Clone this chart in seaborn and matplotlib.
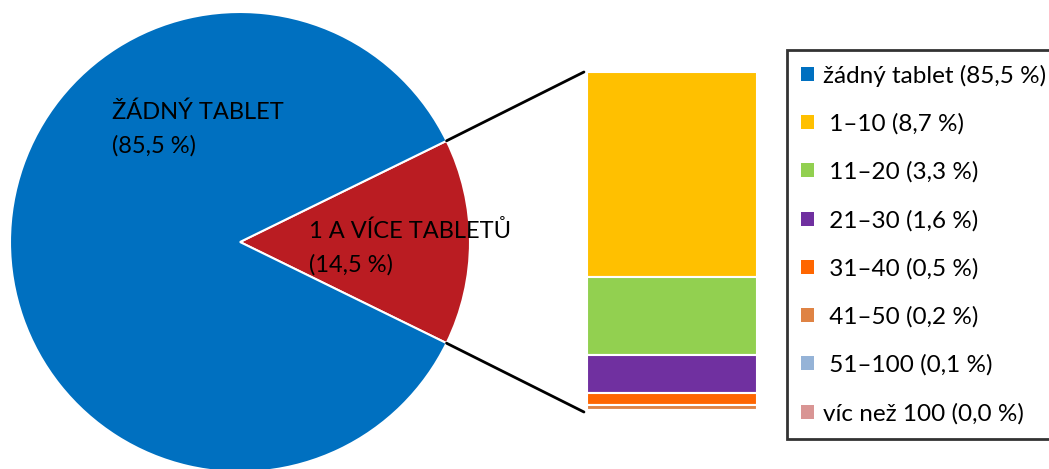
import matplotlib
matplotlib.use("Agg")
import matplotlib.pyplot as plt
from matplotlib.patches import ConnectionPatch
import numpy as np
import seaborn as sns

# pie: no tablets vs. one or more
pie_labels = ["1 A VÍCE TABLETŮ\n(14,5 %)", "ŽÁDNÝ TABLET\n(85,5 %)"]
pie_values = [14.5, 85.5]
pie_colors = ["#BA1C22", "#0070C0"]

# breakdown of the "1 a více" slice (top to bottom in the bar)
bar_labels = [" 1–10 (8,7 %)", " 11–20 (3,3 %)", " 21–30 (1,6 %)", " 31–40 (0,5 %)",
              " 41–50 (0,2 %)", " 51–100 (0,1 %)", "víc než 100 (0,0 %)"]
bar_values = [8.7, 3.3, 1.6, 0.5, 0.2, 0.1, 0.0]
bar_colors = ["#FFC000", "#92D050", "#7030A0", "#FF6600", "#DF8344", "#95B3D7", "#D99594"]
legend_first = "žádný tablet (85,5 %)"

sns.set_style("white")
plt.rcParams["font.family"] = ["Lato", "DejaVu Sans"]
plt.rcParams["text.color"] = "black"

W, H = 1049, 469
fig = plt.figure(figsize=(W / 100, H / 100), dpi=100)

# pie axes
cx, cy, r = 240, 242, 230
ax_pie = fig.add_axes([(cx - r) / W, (H - cy - r) / H, 2 * r / W, 2 * r / H])
half = pie_values[0] / 100 * 360 / 2
wedges, _ = ax_pie.pie(pie_values, colors=pie_colors, startangle=-half, counterclock=True,
                       wedgeprops=dict(edgecolor="white", linewidth=1.5), radius=1)
ax_pie.set_xlim(-1, 1)
ax_pie.set_ylim(-1, 1)
ax_pie.axis("off")

# labels anchored on the last-line baseline
ax_pie.text((112 - cx) / r, (cy - 153) / r, pie_labels[1], ha="left", va="baseline",
            fontsize=17, linespacing=1.7, color="black")
ax_pie.text((309 - cx) / r, (cy - 272) / r, pie_labels[0], ha="left", va="baseline",
            fontsize=17, linespacing=1.7, color="black")

# stacked bar axes
bx0, bx1, by0, by1 = 587, 757, 72, 412
ax_bar = fig.add_axes([bx0 / W, (H - by1) / H, (bx1 - bx0) / W, (by1 - by0) / H])
total = sum(bar_values)
bottoms = np.cumsum([0] + bar_values[::-1])[:-1][::-1]
bar_handles = []
for lab, val, bot, col in zip(bar_labels, bar_values, bottoms, bar_colors):
    b = ax_bar.bar([0], [val], bottom=bot, width=1.0, color=col, edgecolor="white",
                   linewidth=1.5, label=lab)
    bar_handles.append(b[0])
ax_bar.set_xlim(-0.5, 0.5)
ax_bar.set_ylim(0, total)
ax_bar.axis("off")

# connector lines
rad = np.deg2rad(half)
for sgn, yb in [(1, 1.0), (-1, 0.0)]:
    con = ConnectionPatch(xyA=(np.cos(rad), sgn * np.sin(rad)), coordsA=ax_pie.transData,
                          xyB=(-0.018, yb), coordsB=ax_bar.transAxes,
                          color="black", linewidth=2)
    fig.add_artist(con)


# legend, spacing tuned so rows sit at y = 75.5 ... 413 px (from top)
def make_legend(ls, bp):
    lg = fig.legend([wedges[1]] + bar_handles, [legend_first] + bar_labels,
                    loc="upper left", bbox_to_anchor=(787 / W, 1 - 50 / H),
                    fontsize=17.5, frameon=True, fancybox=False, edgecolor="black",
                    handlelength=0.5, handleheight=0.5, handletextpad=0.4,
                    labelspacing=ls, borderpad=bp, borderaxespad=0)
    lg.get_frame().set_linewidth(2)
    for h in lg.legend_handles:
        h.set_edgecolor("none")
    for t in lg.get_texts():
        t.set_color("black")
    return lg


fs_px = 17.5 * 100 / 72
ls, bp = 1.0, 0.5
leg = make_legend(ls, bp)
for _ in range(3):
    fig.canvas.draw()
    rend = fig.canvas.get_renderer()
    ys = [H - (t.get_window_extent(rend).y0 + t.get_window_extent(rend).y1) / 2
          for t in leg.get_texts()]
    step = (ys[-1] - ys[0]) / 7
    ls += (338 / 7 - step) / fs_px
    bp += (75.5 - ys[0]) / fs_px
    leg.remove()
    leg = make_legend(ls, bp)

fig.savefig("out.png", dpi=100)
